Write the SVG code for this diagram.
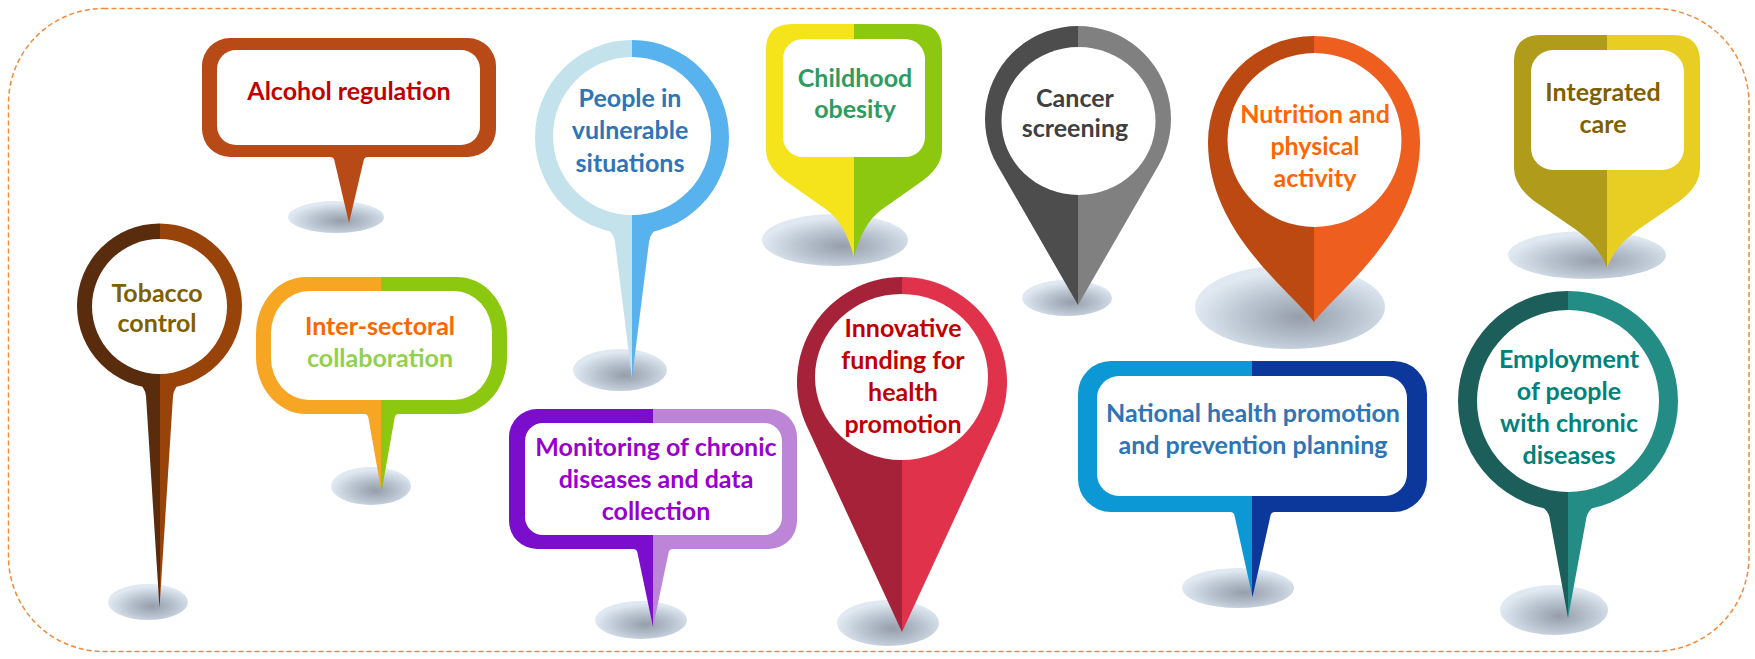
<svg xmlns="http://www.w3.org/2000/svg" width="1755" height="659" viewBox="0 0 1755 659">
<style>
.t{font-family:Lato,"Liberation Sans",sans-serif;font-weight:700;font-size:25px;text-anchor:middle}
.in{fill:#FFFFFF}
.sh{fill:url(#shadow)}
.border{fill:none;stroke:#F08A3C;stroke-width:1.5;stroke-dasharray:5 3}
</style>
<defs>
<radialGradient id="shadow" cx="0.55" cy="0.62" r="0.55">
<stop offset="0" stop-color="#959EAA"/>
<stop offset="0.55" stop-color="#BAC5D1"/>
<stop offset="1" stop-color="#E0E9F2"/>
</radialGradient>
<linearGradient id="g-tob"><stop offset="0.5" stop-color="#582C0C"/><stop offset="0.5" stop-color="#974309"/></linearGradient>
<linearGradient id="g-int"><stop offset="0.5" stop-color="#F6A623"/><stop offset="0.5" stop-color="#8CC80F"/></linearGradient>
<linearGradient id="g-peo"><stop offset="0.5" stop-color="#C4E2EC"/><stop offset="0.5" stop-color="#57B2EE"/></linearGradient>
<linearGradient id="g-mon"><stop offset="0.5" stop-color="#7A0ECC"/><stop offset="0.5" stop-color="#BC85D7"/></linearGradient>
<linearGradient id="g-chi"><stop offset="0.5" stop-color="#F5E41C"/><stop offset="0.5" stop-color="#8CC80F"/></linearGradient>
<linearGradient id="g-inn"><stop offset="0.5" stop-color="#A52238"/><stop offset="0.5" stop-color="#E0324B"/></linearGradient>
<linearGradient id="g-can"><stop offset="0.5" stop-color="#4D4D4D"/><stop offset="0.5" stop-color="#808080"/></linearGradient>
<linearGradient id="g-nut"><stop offset="0.5" stop-color="#BB4911"/><stop offset="0.5" stop-color="#EE5E1F"/></linearGradient>
<linearGradient id="g-nat"><stop offset="0.5" stop-color="#0B98D4"/><stop offset="0.5" stop-color="#0D389B"/></linearGradient>
<linearGradient id="g-itg"><stop offset="0.5" stop-color="#B19B1B"/><stop offset="0.5" stop-color="#E8CE23"/></linearGradient>
<linearGradient id="g-emp"><stop offset="0.5" stop-color="#1B5E5A"/><stop offset="0.5" stop-color="#238C84"/></linearGradient>
</defs>

<rect class="border" x="8.5" y="8.5" width="1740.5" height="643" rx="95" ry="95"/>

<g id="connectors"></g>

<g id="alcohol">
<ellipse class="sh" cx="336" cy="217" rx="48" ry="16"/>
<path fill="#B84A17" d="M 230 38 H 468 A 28 28 0 0 1 496 66 V 129 A 28 28 0 0 1 468 157 H 368 Q 364 157 363.5 161 L 349 223 L 334.5 161 Q 334 157 330 157 H 230 A 28 28 0 0 1 202 129 V 66 A 28 28 0 0 1 230 38 Z"/>
<rect class="in" x="217" y="50" width="263" height="95" rx="19"/>
<text class="t" x="349" y="100" fill="#C00000">Alcohol regulation</text>
</g>

<g id="tobacco">
<ellipse class="sh" cx="148" cy="602" rx="40" ry="18"/>
<path fill="url(#g-tob)" d="M 77 306 A 82.5 82.5 0 1 1 242 306 A 82.5 82.5 0 1 1 77 306 Z M 182 382 Q 174 387 173 396 L 159.5 608 L 146 396 Q 145 387 137 382 Z"/>
<circle class="in" cx="159.5" cy="306.5" r="67.5"/>
<text class="t" x="157" y="302" fill="#7F6000">Tobacco</text>
<text class="t" x="157" y="332" fill="#7F6000">control</text>
</g>

<g id="intersectoral">
<ellipse class="sh" cx="371" cy="486" rx="40" ry="19"/>
<path fill="url(#g-int)" d="M 306 277 H 457 A 50 57 0 0 1 507 334 V 357 A 50 57 0 0 1 457 414 H 399 Q 395 414 394.6 418 L 381.5 492 L 368.4 418 Q 368 414 364 414 H 306 A 50 57 0 0 1 256 357 V 334 A 50 57 0 0 1 306 277 Z"/>
<rect class="in" x="271" y="291" width="221" height="109" rx="38" ry="42"/>
<text class="t" x="380" y="335" fill="#FF6600">Inter-sectoral</text>
<text class="t" x="380" y="367" fill="#92D050">collaboration</text>
</g>

<g id="people">
<ellipse class="sh" cx="620" cy="370" rx="47" ry="21"/>
<path fill="url(#g-peo)" d="M 535 137 A 97 97 0 1 1 729 137 A 97 97 0 1 1 535 137 Z M 661 226 Q 650 232 649 242 L 632 378 L 615 242 Q 614 232 603 226 Z"/>
<circle class="in" cx="632" cy="136" r="79"/>
<text class="t" x="630" y="107" fill="#2E75B6">People in</text>
<text class="t" x="630" y="139" fill="#2E75B6">vulnerable</text>
<text class="t" x="630" y="172" fill="#2E75B6">situations</text>
</g>

<g id="monitoring">
<ellipse class="sh" cx="641" cy="620" rx="46" ry="19"/>
<path fill="url(#g-mon)" d="M 537 409 H 769 A 28 28 0 0 1 797 437 V 521 A 28 28 0 0 1 769 549 H 673 Q 669 549 668.5 553 L 653 627 L 637.5 553 Q 637 549 633 549 H 537 A 28 28 0 0 1 509 521 V 437 A 28 28 0 0 1 537 409 Z"/>
<rect class="in" x="525" y="423" width="257" height="112" rx="18"/>
<text class="t" x="656" y="456" fill="#9900CC">Monitoring of chronic</text>
<text class="t" x="656" y="488" fill="#9900CC">diseases and data</text>
<text class="t" x="656" y="520" fill="#9900CC">collection</text>
</g>

<g id="childhood">
<ellipse class="sh" cx="835" cy="240" rx="73" ry="26"/>
<path fill="url(#g-chi)" d="M 854 257 C 848 235 840 220 827 210 L 790 184 Q 766 168 766 150 L 766 50 Q 766 24 792 24 L 916 24 Q 942 24 942 50 L 942 150 Q 942 168 918 184 L 881 210 C 868 220 860 235 854 257 Z"/>
<rect class="in" x="783" y="39" width="142" height="118" rx="20"/>
<text class="t" x="855" y="87" fill="#2E9B5F">Childhood</text>
<text class="t" x="855" y="118" fill="#2E9B5F">obesity</text>
</g>

<g id="innovative">
<ellipse class="sh" cx="888" cy="623" rx="51" ry="23"/>
<path fill="url(#g-inn)" d="M 902 632 L 806.7 426.1 A 105 105 0 1 1 997.3 426.1 Z"/>
<ellipse class="in" cx="901.5" cy="377" rx="86.5" ry="83"/>
<text class="t" x="903" y="337" fill="#C00000">Innovative</text>
<text class="t" x="903" y="369" fill="#C00000">funding for</text>
<text class="t" x="903" y="401" fill="#C00000">health</text>
<text class="t" x="903" y="433" fill="#C00000">promotion</text>
</g>

<g id="cancer">
<ellipse class="sh" cx="1067" cy="298" rx="45" ry="18"/>
<path fill="url(#g-can)" d="M 1078 305 L 997.5 165.5 A 93 93 0 1 1 1158.5 165.5 Z"/>
<ellipse class="in" cx="1078.5" cy="121" rx="77" ry="74"/>
<text class="t" x="1075" y="107" fill="#404040">Cancer</text>
<text class="t" x="1075" y="137" fill="#404040">screening</text>
</g>

<g id="nutrition">
<ellipse class="sh" cx="1290" cy="307" rx="95" ry="42"/>
<path fill="url(#g-nut)" d="M 1314 322 C 1290 290 1208 232 1208 142 A 106 106 0 0 1 1420 142 C 1420 232 1338 290 1314 322 Z"/>
<circle class="in" cx="1314.5" cy="140" r="87"/>
<text class="t" x="1315" y="123" fill="#FF6600">Nutrition and</text>
<text class="t" x="1315" y="155" fill="#FF6600">physical</text>
<text class="t" x="1315" y="187" fill="#FF6600">activity</text>
</g>

<g id="national">
<ellipse class="sh" cx="1238" cy="588" rx="56" ry="20"/>
<path fill="url(#g-nat)" d="M 1111 361 H 1394 A 33 33 0 0 1 1427 394 V 479 A 33 33 0 0 1 1394 512 H 1275 Q 1271 512 1270.4 516 L 1252.5 597 L 1234.6 516 Q 1234 512 1230 512 H 1111 A 33 33 0 0 1 1078 479 V 394 A 33 33 0 0 1 1111 361 Z"/>
<rect class="in" x="1097" y="376" width="310" height="120" rx="22"/>
<text class="t" x="1253" y="422" fill="#2E75B6">National health promotion</text>
<text class="t" x="1253" y="454" fill="#2E75B6">and prevention planning</text>
</g>

<g id="integrated">
<ellipse class="sh" cx="1587" cy="255" rx="79" ry="24"/>
<path fill="url(#g-itg)" d="M 1607 268 C 1600 250 1590 240 1575 229 L 1540 205 Q 1514 188 1514 168 L 1514 62 Q 1514 35 1541 35 L 1673 35 Q 1700 35 1700 62 L 1700 168 Q 1700 188 1674 205 L 1639 229 C 1624 240 1614 250 1607 268 Z"/>
<rect class="in" x="1531" y="50" width="153" height="120" rx="22"/>
<text class="t" x="1603" y="101" fill="#7F6000">Integrated</text>
<text class="t" x="1603" y="133" fill="#7F6000">care</text>
</g>

<g id="employment">
<ellipse class="sh" cx="1554" cy="610" rx="54" ry="25"/>
<path fill="url(#g-emp)" d="M 1458 401 A 110 110 0 1 1 1678 401 A 110 110 0 1 1 1458 401 Z M 1598 504 Q 1587 510 1586 520 L 1568 618 L 1550 520 Q 1549 510 1538 504 Z"/>
<circle class="in" cx="1568" cy="401" r="91"/>
<text class="t" x="1569" y="368" fill="#00827A">Employment</text>
<text class="t" x="1569" y="400" fill="#00827A">of people</text>
<text class="t" x="1569" y="432" fill="#00827A">with chronic</text>
<text class="t" x="1569" y="464" fill="#00827A">diseases</text>
</g>
</svg>
